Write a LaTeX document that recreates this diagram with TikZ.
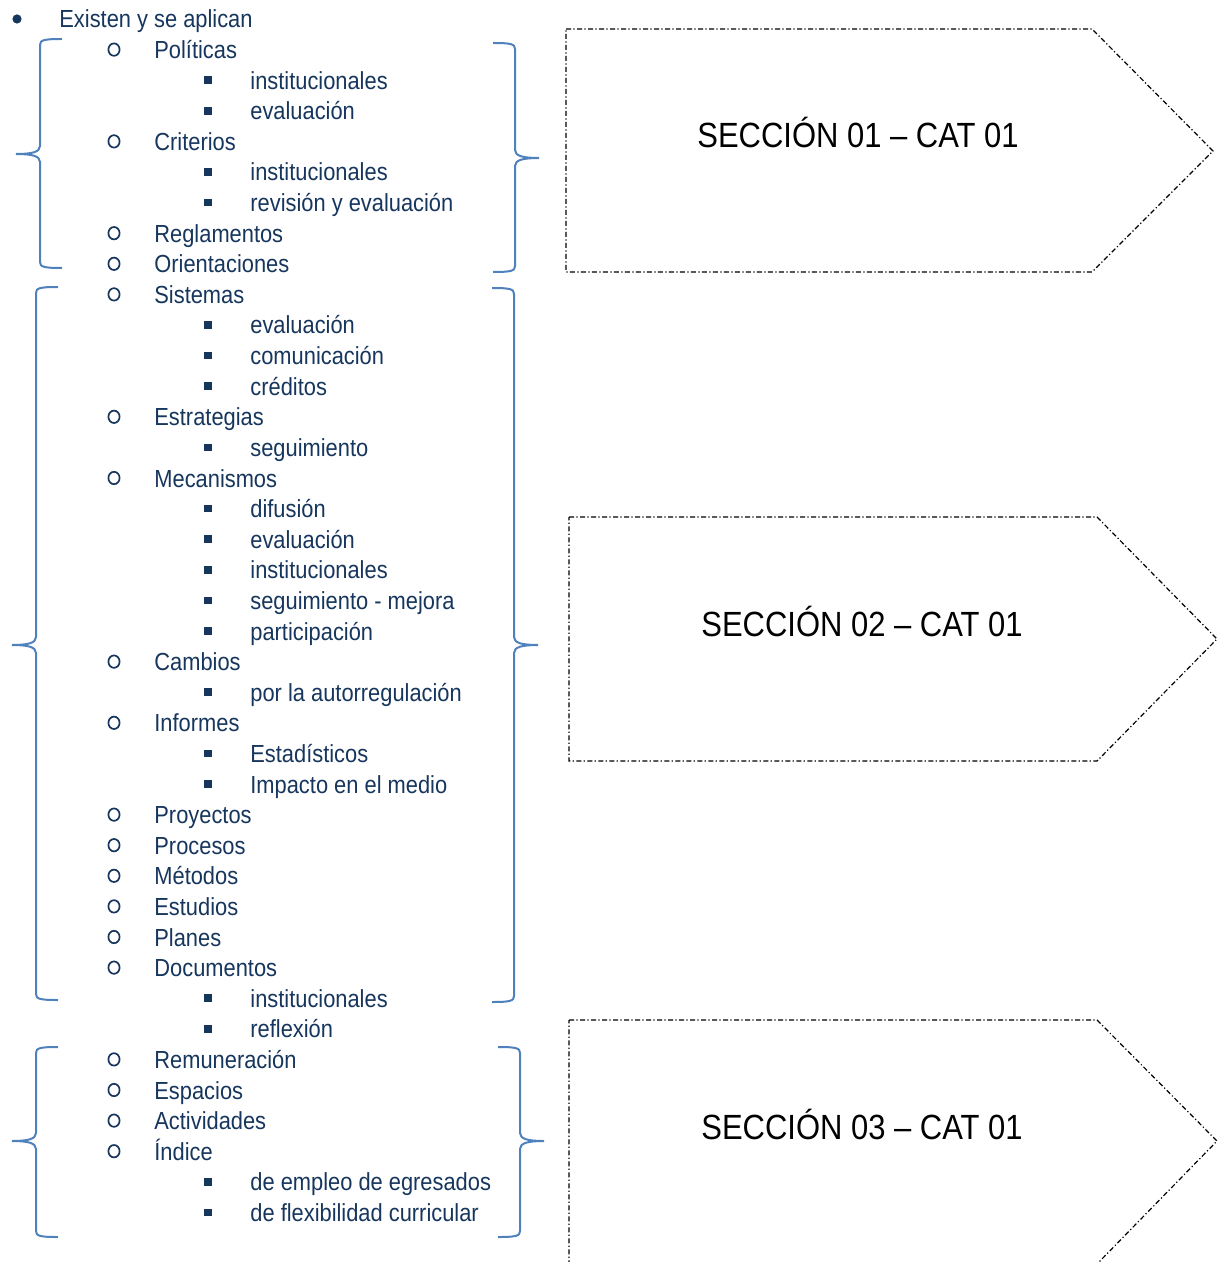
\documentclass[tikz,border=0pt]{standalone}
\usepackage{fontspec}
\setmainfont{Liberation Sans}[FakeStretch=0.885]
\usepackage{tikz}
\usetikzlibrary{calc}
\usetikzlibrary{shapes.geometric}
\definecolor{itemblue}{HTML}{17365D}
\definecolor{braceblue}{HTML}{4F81BD}
\tikzset{
  item/.style={anchor=base west, inner sep=0, text=itemblue, font=\fontsize{12.35}{14}\selectfont},
  bul1/.style={circle, fill=itemblue, inner sep=0, minimum size=4.6pt},
  bul2/.style={ellipse, draw=itemblue, line width=0.85pt, inner sep=0, minimum width=5.6pt, minimum height=6.2pt},
  bul3/.style={rectangle, fill=itemblue, inner sep=0, minimum size=3.8pt},
  curly/.style={draw=braceblue, line width=1pt},
  secbox/.style={draw=black, line width=0.6pt, dash pattern=on 2.5pt off 1.2pt on 0.6pt off 1.2pt},
  sectext/.style={anchor=base, inner sep=0, font=\fontsize{17.5}{20}\selectfont}
}

\begin{document}
\begin{tikzpicture}[x=0.5pt, y=-0.5pt]
\useasboundingbox (0,0) rectangle (1225,1262);
\clip (0,0) rectangle (1225,1262);

% the outline, one row every 30.6px
\foreach \lvl/\txt [count=\i from 0] in {1/Existen y se aplican,
  2/Políticas, 3/institucionales, 3/evaluación,
  2/Criterios, 3/institucionales, 3/revisión y evaluación,
  2/Reglamentos, 2/Orientaciones,
  2/Sistemas, 3/evaluación, 3/comunicación, 3/créditos,
  2/Estrategias, 3/seguimiento,
  2/Mecanismos, 3/difusión, 3/evaluación, 3/institucionales, 3/seguimiento - mejora, 3/participación,
  2/Cambios, 3/por la autorregulación,
  2/Informes, 3/Estadísticos, 3/Impacto en el medio,
  2/Proyectos, 2/Procesos, 2/Métodos, 2/Estudios, 2/Planes,
  2/Documentos, 3/institucionales, 3/reflexión,
  2/Remuneración, 2/Espacios, 2/Actividades,
  2/Índice, 3/de empleo de egresados, 3/de flexibilidad curricular}
{
  \pgfmathsetmacro\bx{{17,114,208}[\lvl-1]}
  \pgfmathsetmacro\tx{{59,154,250}[\lvl-1]}
  \pgfmathsetmacro\ry{19+30.6*\i}
  \node[bul\lvl] (b\i) at (\bx,\ry) {};
  \node[item] (t\i) at (\tx,\ry+9) {\txt};
}

% left braces: vertical x / top / middle / bottom
\foreach \xv/\ya/\ym/\yb in {40/39/154/268, 36/287/645/1000, 36/1047/1141/1237}
  \draw[curly] (\xv+22,\ya) .. controls (\xv+4,\ya) and (\xv,\ya+1) .. (\xv,\ya+6)
    -- (\xv,\ym-8) .. controls (\xv,\ym-2) and (\xv-8,\ym) .. (\xv-24,\ym)
    .. controls (\xv-8,\ym) and (\xv,\ym+2) .. (\xv,\ym+8)
    -- (\xv,\yb-6) .. controls (\xv,\yb-1) and (\xv+4,\yb) .. (\xv+22,\yb);

% right braces
\foreach \xv/\ya/\ym/\yb in {515/43/158/272, 514/288/645/1002, 520/1047/1141/1237}
  \draw[curly] (\xv-22,\ya) .. controls (\xv-4,\ya) and (\xv,\ya+1) .. (\xv,\ya+6)
    -- (\xv,\ym-8) .. controls (\xv,\ym-2) and (\xv+8,\ym) .. (\xv+24,\ym)
    .. controls (\xv+8,\ym) and (\xv,\ym+2) .. (\xv,\ym+8)
    -- (\xv,\yb-6) .. controls (\xv,\yb-1) and (\xv-4,\yb) .. (\xv-22,\yb);

% section arrows
\draw[secbox] (566,29) -- (1092,29) -- (1213,151) -- (1092,272) -- (566,272) -- cycle;
\draw[secbox] (569,517) -- (1097,517) -- (1217,639) -- (1097,761) -- (569,761) -- cycle;
\draw[secbox] (569,1020) -- (1097,1020) -- (1217,1141) -- (1097,1264) -- (569,1264) -- cycle;

\node[sectext] (sec1) at (858,148) {SECCIÓN 01 – CAT 01};
\node[sectext] (sec2) at (862,636) {SECCIÓN 02 – CAT 01};
\node[sectext] (sec3) at (862,1139) {SECCIÓN 03 – CAT 01};
\end{tikzpicture}
\end{document}
